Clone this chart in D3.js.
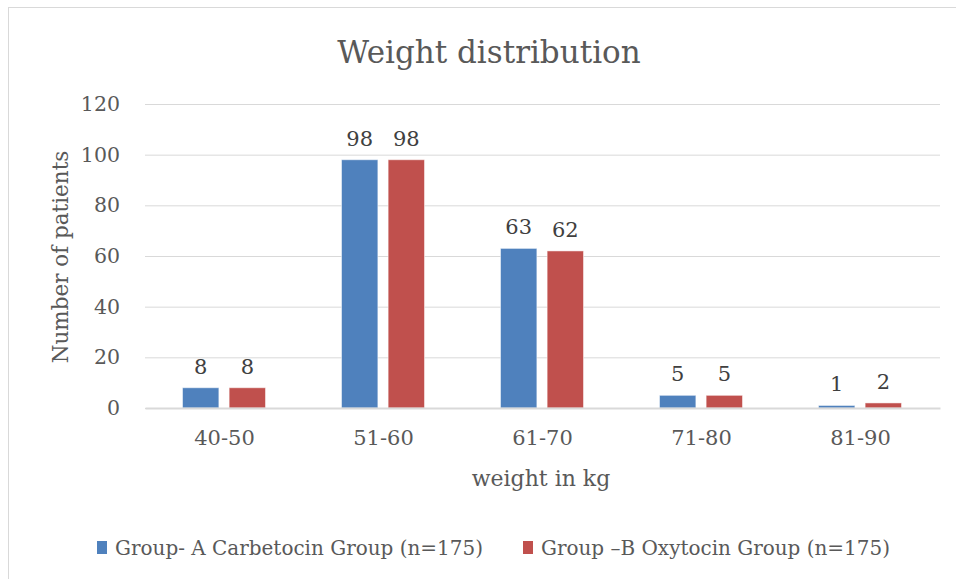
<!DOCTYPE html>
<html><head><meta charset="utf-8">
<script src="https://cdn.jsdelivr.net/npm/d3@7"></script>
<style>body{margin:0;background:#fff}svg{display:block}</style>
</head><body>
<svg id="c" width="956" height="579"></svg>
<script>
const categories = ["40-50","51-60","61-70","71-80","81-90"];
const seriesNames = ["Group- A Carbetocin Group (n=175)","Group –B Oxytocin Group (n=175)"];
const groupA = [8,98,63,5,1];
const groupB = [8,98,62,5,2];
const yTicks = [0,20,40,60,80,100,120];
const colors = ["#4f81bd","#c0504d"];

const svg = d3.select("#c");
const font = "'DejaVu Serif', serif";
const txt = "#595959";
const m = {left:145, right:940, top:104, bottom:408};

svg.append("rect").attr("x",8.5).attr("y",7.5).attr("width",960).attr("height",600)
  .attr("fill","none").attr("stroke","#d9d9d9").attr("stroke-width",1);

const x = d3.scaleBand().domain(categories).range([m.left,m.right]);
const x1 = d3.scaleBand().domain([0,1]).range([37.5,x.bandwidth()-38.5]).paddingInner(0.22);
const y = d3.scaleLinear().domain([0,120]).range([m.bottom,m.top]);

// grid
const g = svg.append("g").attr("transform",`translate(${m.left},0)`)
  .call(d3.axisLeft(y).tickValues(yTicks).tickSize(-(m.right-m.left)).tickFormat(d=>d).tickPadding(25));
g.select(".domain").remove();
g.selectAll(".tick line").attr("stroke","#d9d9d9").attr("stroke-width",1);
g.selectAll(".tick text").attr("fill",txt).style("font-family",font).style("font-size","20.5px");

const series = [groupA, groupB];
series.forEach((vals,si)=>{
  const sg = svg.append("g");
  sg.selectAll("rect").data(vals).join("rect")
    .attr("x",(d,i)=>x(categories[i])+x1(si))
    .attr("width",x1.bandwidth())
    .attr("y",d=>y(d))
    .attr("height",d=>y(0)-y(d))
    .attr("fill",colors[si])
    .attr("stroke","#ffffff").attr("stroke-opacity",0.5).attr("stroke-width",1);
  sg.selectAll("text").data(vals).join("text")
    .attr("x",(d,i)=>x(categories[i])+x1(si)+x1.bandwidth()/2)
    .attr("y",d=>y(d)-14)
    .attr("text-anchor","middle").attr("fill","#404040")
    .style("font-family",font).style("font-size","21px")
    .text(d=>d);
});

// x axis
const xa = svg.append("g").attr("transform",`translate(0,${m.bottom})`)
  .call(d3.axisBottom(x).tickSize(0).tickPadding(22));
xa.select(".domain").attr("stroke","#d9d9d9").attr("stroke-width",2);
xa.selectAll(".tick text").attr("fill",txt).style("font-family",font).style("font-size","21px");

svg.append("text").attr("x",489).attr("y",63).attr("text-anchor","middle")
  .attr("fill",txt).style("font-family",font).style("font-size","31px").text("Weight distribution");
svg.append("text").attr("x",541).attr("y",486).attr("text-anchor","middle")
  .attr("fill",txt).style("font-family",font).style("font-size","22px").text("weight in kg");
svg.append("text").attr("transform","translate(68,257) rotate(-90)").attr("text-anchor","middle")
  .attr("fill",txt).style("font-family",font).style("font-size","21.5px").text("Number of patients");

// legend
const legX = [97,523], legW = [368,349];
seriesNames.forEach((n,i)=>{
  svg.append("rect").attr("x",legX[i]).attr("y",541).attr("width",10).attr("height",13).attr("fill",colors[i]);
  svg.append("text").attr("x",legX[i]+18).attr("y",555).attr("fill",txt)
    .attr("textLength",legW[i]).attr("lengthAdjust","spacingAndGlyphs")
    .style("font-family",font).style("font-size","20px").text(n);
});
</script>
</body></html>
